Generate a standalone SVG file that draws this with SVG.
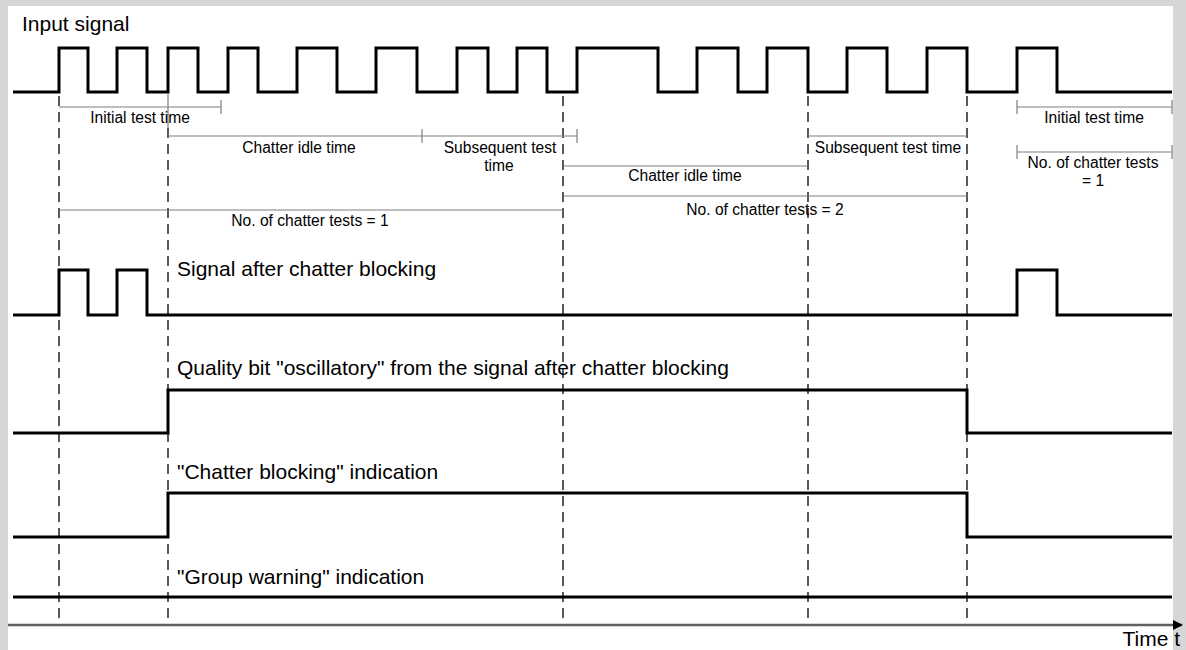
<svg xmlns="http://www.w3.org/2000/svg" width="1186" height="650" viewBox="0 0 1186 650">
<defs>
<style>
.wave{fill:none;stroke:#000;stroke-width:3;stroke-linejoin:miter}
.dash{fill:none;stroke:#000;stroke-width:1.3;stroke-dasharray:10 6}
.dim{fill:none;stroke:#7f7f7f;stroke-width:1.2}
.big{font-family:"Liberation Sans",Arial,sans-serif;font-size:21px;fill:#000}
.small{font-family:"Liberation Sans",Arial,sans-serif;font-size:15.6px;fill:#000;text-anchor:middle}
</style>
<marker id="arr" viewBox="0 0 10 10" refX="9" refY="5" markerWidth="10" markerHeight="10" markerUnits="userSpaceOnUse" orient="auto">
<path d="M0,0 L10,5 L0,10 z" fill="#000"/>
</marker>
</defs>
<rect x="0" y="0" width="1186" height="650" fill="#d6d6d6"/>
<rect x="8" y="6" width="1165" height="644" fill="#fff"/>

<g id="input-signal">
<text class="big" x="22" y="31">Input signal</text>
<path class="wave" d="M13,92 H59 V48 H88 V92 H117 V48 H147 V92 H168 V48 H198 V92 H228 V48 H258 V92 H297 V48 H337 V92 H376 V48 H417 V92 H457 V48 H488 V92 H517 V48 H547 V92 H577 V48 H658 V92 H697 V48 H738 V92 H767 V48 H808 V92 H847 V48 H887 V92 H927 V48 H967 V92 H1017 V48 H1057 V92 H1172"/>
</g>

<g id="signal-after-blocking">
<text class="big" x="177" y="276">Signal after chatter blocking</text>
<path class="wave" d="M13,315 H59 V270 H88 V315 H117 V270 H147 V315 H1017 V270 H1057 V315 H1172"/>
</g>

<g id="quality-bit">
<text class="big" x="177" y="375">Quality bit "oscillatory" from the signal after chatter blocking</text>
<path class="wave" d="M13,433 H168 V390 H967 V433 H1172"/>
</g>

<g id="chatter-indication">
<text class="big" x="177" y="479">"Chatter blocking" indication</text>
<path class="wave" d="M13,537 H168 V493 H967 V537 H1172"/>
</g>

<g id="group-warning">
<text class="big" x="177" y="584">"Group warning" indication</text>
<path class="wave" d="M13,597 H1172"/>
</g>

<g id="markers">
<path class="dash" d="M59,96 V622 M168,128 V622 M563,96 V622 M808,96 V622 M967,96 V622"/>
<path class="dim" d="M168,94 V128"/>
</g>

<g id="time-labels">
<path class="dim" d="M59,107 H221 M221,100 V114"/>
<text class="small" x="140" y="123">Initial test time</text>
<path class="dim" d="M168,136 H577 M422,129 V143 M577,129 V143"/>
<text class="small" x="299" y="153">Chatter idle time</text>
<text class="small" x="500" y="153">Subsequent test</text>
<text class="small" x="499" y="171">time</text>
<path class="dim" d="M563,166 H808"/>
<text class="small" x="685" y="181">Chatter idle time</text>
<path class="dim" d="M808,136 H967"/>
<text class="small" x="888" y="153">Subsequent test time</text>
<path class="dim" d="M563,196 H967"/>
<text class="small" x="765" y="215">No. of chatter tests = 2</text>
<path class="dim" d="M59,210 H563"/>
<text class="small" x="310" y="226">No. of chatter tests = 1</text>
<path class="dim" d="M1017,107 H1172 M1017,100 V114 M1172,100 V114"/>
<text class="small" x="1094" y="123">Initial test time</text>
<path class="dim" d="M1017,152 H1172 M1017,145 V159 M1172,145 V159"/>
<text class="small" x="1093" y="168">No. of chatter tests</text>
<text class="small" x="1093" y="186">= 1</text>
</g>

<g id="connectors">
<path d="M8,625 H1182" stroke="#606060" stroke-width="2.5" fill="none" marker-end="url(#arr)"/>
<text class="big" x="1180" y="646" text-anchor="end">Time t</text>
</g>
</svg>
